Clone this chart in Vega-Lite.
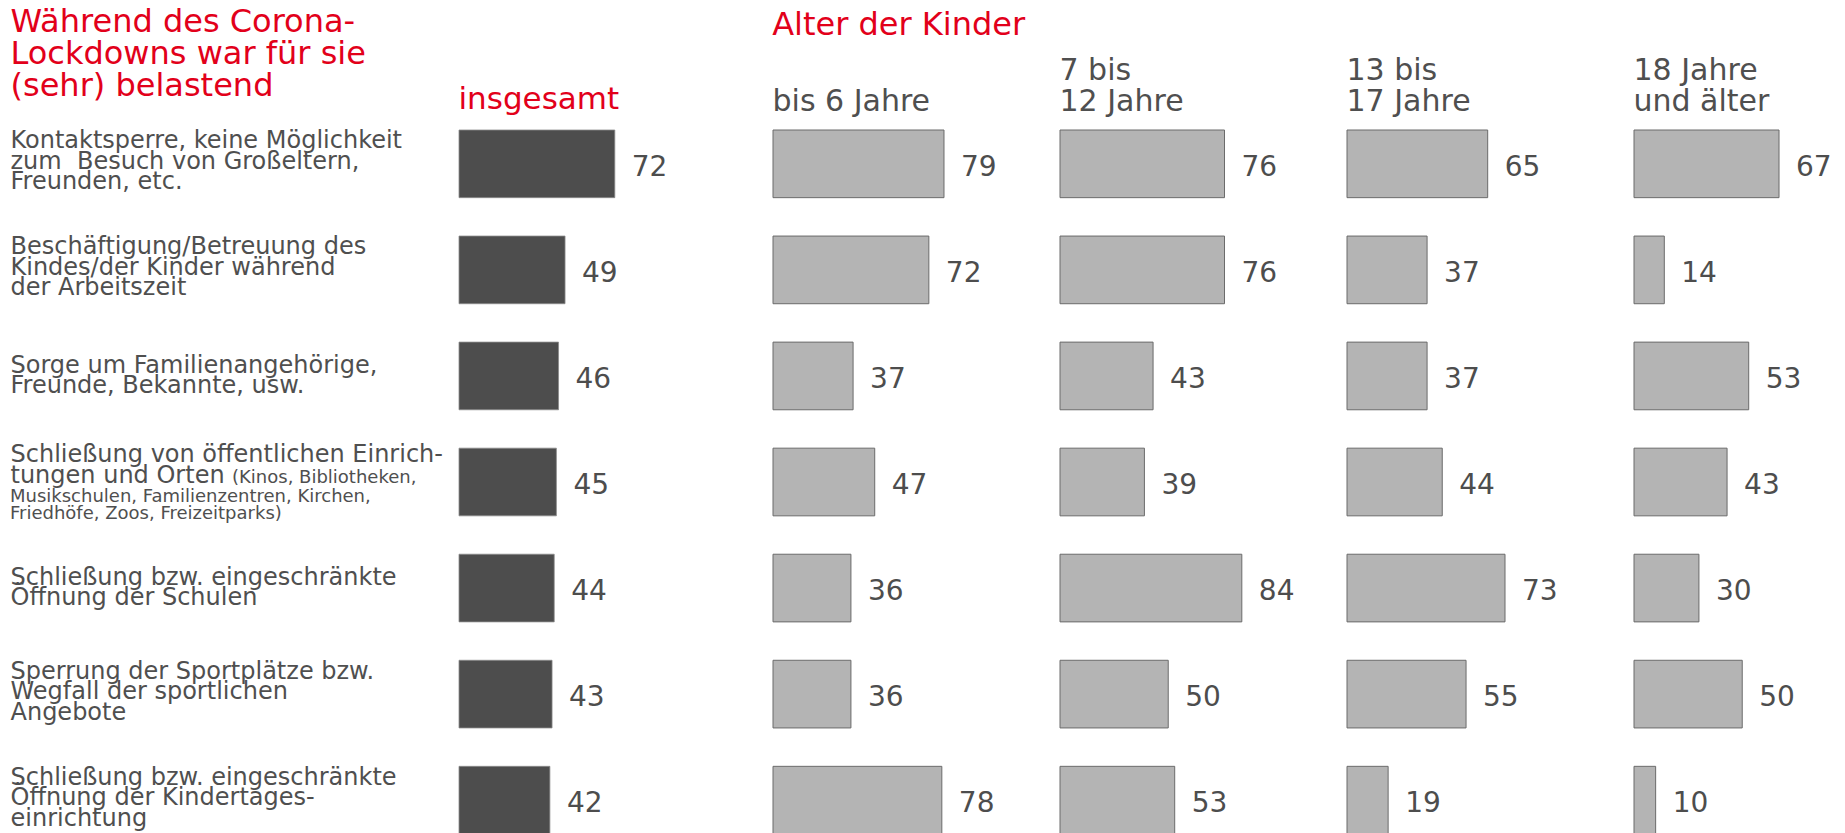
{
  "$schema": "https://vega.github.io/schema/vega-lite/v6.json",
  "autosize": {"type": "none"},
  "padding": {"left": 459, "top": 130, "right": 1386, "bottom": 703},
  "background": "white",
  "bounds": "flush",
  "spacing": 87,
  "config": {
    "view": {"stroke": null},
    "font": "DejaVu Sans",
    "axis": {"labelFont": "DejaVu Sans", "titleFont": "DejaVu Sans"}
  },
  "datasets": {
    "rows": [
      {"group": "insgesamt", "label": "Kontaktsperre, keine Möglichkeit|zum\u00a0 Besuch von Großeltern,|Freunden, etc.", "value": 72},
      {"group": "insgesamt", "label": "Beschäftigung/Betreuung des|Kindes/der Kinder während|der Arbeitszeit", "value": 49},
      {"group": "insgesamt", "label": "Sorge um Familienangehörige,|Freunde, Bekannte, usw.", "value": 46},
      {"group": "insgesamt", "label": "Schließung von öffentlichen Einrich-|tungen und Orten| | ", "value": 45, "note1": "(Kinos, Bibliotheken,", "note2": ["Musikschulen, Familienzentren, Kirchen,", "Friedhöfe, Zoos, Freizeitparks)"]},
      {"group": "insgesamt", "label": "Schließung bzw. eingeschränkte|Öffnung der Schulen", "value": 44},
      {"group": "insgesamt", "label": "Sperrung der Sportplätze bzw.|Wegfall der sportlichen|Angebote", "value": 43},
      {"group": "insgesamt", "label": "Schließung bzw. eingeschränkte|Öffnung der Kindertages-|einrichtung", "value": 42},

      {"group": "bis6", "label": "Kontaktsperre, keine Möglichkeit|zum\u00a0 Besuch von Großeltern,|Freunden, etc.", "value": 79},
      {"group": "bis6", "label": "Beschäftigung/Betreuung des|Kindes/der Kinder während|der Arbeitszeit", "value": 72},
      {"group": "bis6", "label": "Sorge um Familienangehörige,|Freunde, Bekannte, usw.", "value": 37},
      {"group": "bis6", "label": "Schließung von öffentlichen Einrich-|tungen und Orten| | ", "value": 47},
      {"group": "bis6", "label": "Schließung bzw. eingeschränkte|Öffnung der Schulen", "value": 36},
      {"group": "bis6", "label": "Sperrung der Sportplätze bzw.|Wegfall der sportlichen|Angebote", "value": 36},
      {"group": "bis6", "label": "Schließung bzw. eingeschränkte|Öffnung der Kindertages-|einrichtung", "value": 78},

      {"group": "7-12", "label": "Kontaktsperre, keine Möglichkeit|zum\u00a0 Besuch von Großeltern,|Freunden, etc.", "value": 76},
      {"group": "7-12", "label": "Beschäftigung/Betreuung des|Kindes/der Kinder während|der Arbeitszeit", "value": 76},
      {"group": "7-12", "label": "Sorge um Familienangehörige,|Freunde, Bekannte, usw.", "value": 43},
      {"group": "7-12", "label": "Schließung von öffentlichen Einrich-|tungen und Orten| | ", "value": 39},
      {"group": "7-12", "label": "Schließung bzw. eingeschränkte|Öffnung der Schulen", "value": 84},
      {"group": "7-12", "label": "Sperrung der Sportplätze bzw.|Wegfall der sportlichen|Angebote", "value": 50},
      {"group": "7-12", "label": "Schließung bzw. eingeschränkte|Öffnung der Kindertages-|einrichtung", "value": 53},

      {"group": "13-17", "label": "Kontaktsperre, keine Möglichkeit|zum\u00a0 Besuch von Großeltern,|Freunden, etc.", "value": 65},
      {"group": "13-17", "label": "Beschäftigung/Betreuung des|Kindes/der Kinder während|der Arbeitszeit", "value": 37},
      {"group": "13-17", "label": "Sorge um Familienangehörige,|Freunde, Bekannte, usw.", "value": 37},
      {"group": "13-17", "label": "Schließung von öffentlichen Einrich-|tungen und Orten| | ", "value": 44},
      {"group": "13-17", "label": "Schließung bzw. eingeschränkte|Öffnung der Schulen", "value": 73},
      {"group": "13-17", "label": "Sperrung der Sportplätze bzw.|Wegfall der sportlichen|Angebote", "value": 55},
      {"group": "13-17", "label": "Schließung bzw. eingeschränkte|Öffnung der Kindertages-|einrichtung", "value": 19},

      {"group": "18+", "label": "Kontaktsperre, keine Möglichkeit|zum\u00a0 Besuch von Großeltern,|Freunden, etc.", "value": 67},
      {"group": "18+", "label": "Beschäftigung/Betreuung des|Kindes/der Kinder während|der Arbeitszeit", "value": 14},
      {"group": "18+", "label": "Sorge um Familienangehörige,|Freunde, Bekannte, usw.", "value": 53},
      {"group": "18+", "label": "Schließung von öffentlichen Einrich-|tungen und Orten| | ", "value": 43},
      {"group": "18+", "label": "Schließung bzw. eingeschränkte|Öffnung der Schulen", "value": 30},
      {"group": "18+", "label": "Sperrung der Sportplätze bzw.|Wegfall der sportlichen|Angebote", "value": 50},
      {"group": "18+", "label": "Schließung bzw. eingeschränkte|Öffnung der Kindertages-|einrichtung", "value": 10}
    ]
  },
  "data": {"name": "rows"},
  "hconcat": [
    {
      "width": 227,
      "height": 704,
      "transform": [{"filter": "datum.group === 'insgesamt'"}],
      "encoding": {
        "y": {
          "field": "label", "type": "nominal", "sort": null,
          "scale": {"paddingInner": 0.362, "paddingOuter": 0},
          "axis": {
            "orient": "left", "domain": false, "ticks": false, "tickSize": 0, "grid": false,
            "labelPadding": 449, "labelAlign": "left", "labelBaseline": "middle",
            "labelLimit": 460, "labelOverlap": false, "labelFontSize": 24, "labelLineHeight": 20.5,
            "labelColor": "#4f4f4f",
            "labelOffset": {
              "condition": [
                {"test": "length(split(datum.value, '|')) == 2", "value": -10.25},
                {"test": "length(split(datum.value, '|')) == 3", "value": -22.5},
                {"test": "length(split(datum.value, '|')) == 4", "value": -26.85}
              ],
              "value": -3
            },
            "labelExpr": "split(datum.label, '|')",
            "title": ["Während des Corona-", "Lockdowns war für sie", "(sehr) belastend"],
            "titleAngle": 0, "titleAlign": "left", "titleBaseline": "alphabetic",
            "titleX": -449, "titleY": -98.3, "titleFontSize": 32, "titleFontWeight": "normal",
            "titleColor": "#e2001a", "titleLineHeight": 32
          }
        },
        "x": {
          "field": "value", "type": "quantitative",
          "scale": {"domain": [0, 104.9]},
          "axis": {
            "orient": "top", "labels": false, "ticks": false, "domain": false, "grid": false,
            "title": "insgesamt", "titleX": -1, "titleY": -21.7, "titleAlign": "left",
            "titleBaseline": "alphabetic", "titleAngle": 0, "titleFontSize": 31,
            "titleFontWeight": "normal", "titleColor": "#e2001a"
          }
        }
      },
      "layer": [
        {"mark": {"type": "bar", "color": "#4d4d4d", "stroke": "#8a8a8a", "strokeWidth": 0.8}},
        {
          "mark": {"type": "text", "align": "left", "baseline": "middle", "dx": 17, "dy": 4, "fontSize": 28, "color": "#4d4d4d"},
          "encoding": {"text": {"field": "value", "type": "quantitative"}}
        },
        {
          "mark": {"type": "text", "align": "left", "baseline": "alphabetic", "dx": -227, "dy": 0.9, "fontSize": 18, "color": "#4f4f4f"},
          "encoding": {
            "x": {"value": 0},
            "text": {"condition": {"test": "isValid(datum.note1)", "field": "note1"}, "value": ""}
          }
        },
        {
          "mark": {"type": "text", "align": "left", "baseline": "alphabetic", "dx": -449, "dy": 19.7, "fontSize": 18, "lineHeight": 17.5, "color": "#4f4f4f"},
          "encoding": {
            "x": {"value": 0},
            "text": {"condition": {"test": "isValid(datum.note2)", "field": "note2"}, "value": ""}
          }
        }
      ]
    },
    {
      "width": 200,
      "height": 704,
      "transform": [{"filter": "datum.group === 'bis6'"}],
      "encoding": {
        "y": {
          "field": "label", "type": "nominal", "sort": null,
          "scale": {"paddingInner": 0.362, "paddingOuter": 0},
          "axis": {
            "orient": "left", "domain": false, "ticks": false, "labels": false, "grid": false,
            "title": "Alter der Kinder", "titleAngle": 0, "titleAlign": "left", "titleBaseline": "alphabetic",
            "titleX": -1.3, "titleY": -95.7, "titleFontSize": 32, "titleFontWeight": "normal",
            "titleColor": "#e2001a"
          }
        },
        "x": {
          "field": "value", "type": "quantitative",
          "scale": {"domain": [0, 92.4]},
          "axis": {
            "orient": "top", "labels": false, "ticks": false, "domain": false, "grid": false,
            "title": "bis 6 Jahre", "titleX": -1, "titleY": -20, "titleAlign": "left",
            "titleBaseline": "alphabetic", "titleAngle": 0, "titleFontSize": 30,
            "titleFontWeight": "normal", "titleColor": "#4f4f4f"
          }
        }
      },
      "layer": [
        {"mark": {"type": "bar", "color": "#b4b4b4", "stroke": "#6b6b6b", "strokeWidth": 1}},
        {
          "mark": {"type": "text", "align": "left", "baseline": "middle", "dx": 17, "dy": 4, "fontSize": 28, "color": "#4d4d4d"},
          "encoding": {"text": {"field": "value", "type": "quantitative"}}
        }
      ]
    },
    {
      "width": 200,
      "height": 704,
      "transform": [{"filter": "datum.group === '7-12'"}],
      "encoding": {
        "y": {
          "field": "label", "type": "nominal", "sort": null,
          "scale": {"paddingInner": 0.362, "paddingOuter": 0},
          "axis": null
        },
        "x": {
          "field": "value", "type": "quantitative",
          "scale": {"domain": [0, 92.4]},
          "axis": {
            "orient": "top", "labels": false, "ticks": false, "domain": false, "grid": false,
            "title": ["7 bis", "12 Jahre"], "titleX": -1, "titleY": -51, "titleAlign": "left",
            "titleBaseline": "alphabetic", "titleAngle": 0, "titleFontSize": 30, "titleLineHeight": 31,
            "titleFontWeight": "normal", "titleColor": "#4f4f4f"
          }
        }
      },
      "layer": [
        {"mark": {"type": "bar", "color": "#b4b4b4", "stroke": "#6b6b6b", "strokeWidth": 1}},
        {
          "mark": {"type": "text", "align": "left", "baseline": "middle", "dx": 17, "dy": 4, "fontSize": 28, "color": "#4d4d4d"},
          "encoding": {"text": {"field": "value", "type": "quantitative"}}
        }
      ]
    },
    {
      "width": 200,
      "height": 704,
      "transform": [{"filter": "datum.group === '13-17'"}],
      "encoding": {
        "y": {
          "field": "label", "type": "nominal", "sort": null,
          "scale": {"paddingInner": 0.362, "paddingOuter": 0},
          "axis": null
        },
        "x": {
          "field": "value", "type": "quantitative",
          "scale": {"domain": [0, 92.4]},
          "axis": {
            "orient": "top", "labels": false, "ticks": false, "domain": false, "grid": false,
            "title": ["13 bis", "17 Jahre"], "titleX": -1, "titleY": -51, "titleAlign": "left",
            "titleBaseline": "alphabetic", "titleAngle": 0, "titleFontSize": 30, "titleLineHeight": 31,
            "titleFontWeight": "normal", "titleColor": "#4f4f4f"
          }
        }
      },
      "layer": [
        {"mark": {"type": "bar", "color": "#b4b4b4", "stroke": "#6b6b6b", "strokeWidth": 1}},
        {
          "mark": {"type": "text", "align": "left", "baseline": "middle", "dx": 17, "dy": 4, "fontSize": 28, "color": "#4d4d4d"},
          "encoding": {"text": {"field": "value", "type": "quantitative"}}
        }
      ]
    },
    {
      "width": 200,
      "height": 704,
      "transform": [{"filter": "datum.group === '18+'"}],
      "encoding": {
        "y": {
          "field": "label", "type": "nominal", "sort": null,
          "scale": {"paddingInner": 0.362, "paddingOuter": 0},
          "axis": null
        },
        "x": {
          "field": "value", "type": "quantitative",
          "scale": {"domain": [0, 92.4]},
          "axis": {
            "orient": "top", "labels": false, "ticks": false, "domain": false, "grid": false,
            "title": ["18 Jahre", "und älter"], "titleX": -1, "titleY": -51, "titleAlign": "left",
            "titleBaseline": "alphabetic", "titleAngle": 0, "titleFontSize": 30, "titleLineHeight": 31,
            "titleFontWeight": "normal", "titleColor": "#4f4f4f"
          }
        }
      },
      "layer": [
        {"mark": {"type": "bar", "color": "#b4b4b4", "stroke": "#6b6b6b", "strokeWidth": 1}},
        {
          "mark": {"type": "text", "align": "left", "baseline": "middle", "dx": 17, "dy": 4, "fontSize": 28, "color": "#4d4d4d"},
          "encoding": {"text": {"field": "value", "type": "quantitative"}}
        }
      ]
    }
  ]
}
